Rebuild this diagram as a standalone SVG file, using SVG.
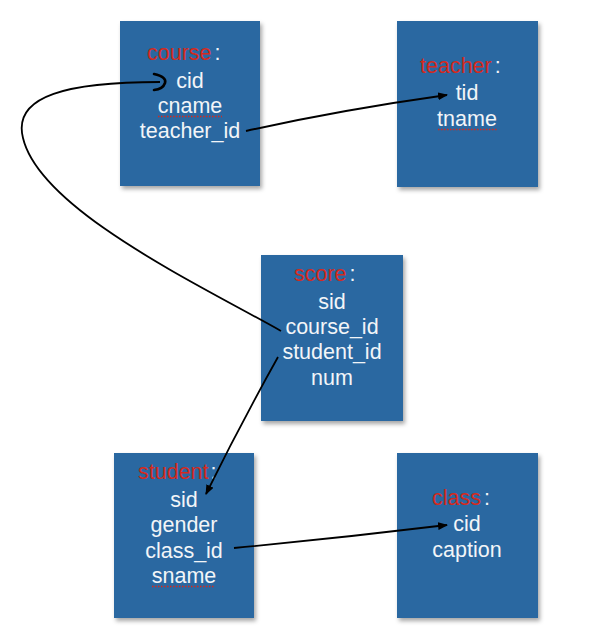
<svg xmlns="http://www.w3.org/2000/svg" width="589" height="633" viewBox="0 0 589 633">
<defs>
<filter id="sh" x="-10%" y="-10%" width="125%" height="125%">
<feDropShadow dx="2" dy="3" stdDeviation="2" flood-color="#000" flood-opacity="0.35"/>
</filter>
<marker id="ah" markerWidth="10" markerHeight="8" refX="9" refY="4" orient="auto" markerUnits="userSpaceOnUse">
<path d="M0,0 L10,4 L0,8 Z" fill="#000"/>
</marker>
<style>
.box{fill:#2c68a1;filter:url(#sh)}
.t{font-family:"Liberation Sans",Arial,sans-serif;font-size:21.5px;fill:#f2f5f8}
.c{text-anchor:middle}
.red{fill:#d42a1e}
.sq{stroke:#d42a1e;stroke-width:1.5;stroke-dasharray:1.5 1.5;fill:none}
.ln{stroke:#000;stroke-width:1.8;fill:none}
</style>
</defs>
<rect width="589" height="633" fill="#fff"/>
<g id="course">
<rect class="box" x="120" y="21" width="140" height="165"/>
<text class="t" x="147" y="60"><tspan class="red">course</tspan><tspan dx="3">:</tspan></text>
<text class="t c" x="190" y="88">cid</text>
<text class="t c" x="190" y="113">cname</text>
<line class="sq" x1="158" y1="116.5" x2="222" y2="116.5"/>
<text class="t c" x="190" y="138">teacher_id</text>
</g>
<g id="teacher">
<rect class="box" x="397" y="21" width="141" height="166"/>
<text class="t" x="420" y="73"><tspan class="red">teacher</tspan><tspan dx="3">:</tspan></text>
<text class="t c" x="467" y="100">tid</text>
<text class="t c" x="467" y="126">tname</text>
<line class="sq" x1="438" y1="129.5" x2="497" y2="129.5"/>
</g>
<g id="score">
<rect class="box" x="261" y="255" width="142" height="166"/>
<text class="t" x="294" y="281"><tspan class="red">score</tspan><tspan dx="3">:</tspan></text>
<text class="t c" x="332" y="309">sid</text>
<text class="t c" x="332" y="334">course_id</text>
<text class="t c" x="332" y="359">student_id</text>
<text class="t c" x="332" y="385">num</text>
</g>
<g id="student">
<rect class="box" x="114" y="453" width="140" height="165"/>
<text class="t" x="138" y="479"><tspan class="red">student</tspan><tspan dx="2">:</tspan></text>
<text class="t c" x="184" y="507">sid</text>
<text class="t c" x="184" y="532">gender</text>
<text class="t c" x="184" y="558">class_id</text>
<text class="t c" x="184" y="583">sname</text>
<line class="sq" x1="152" y1="586.5" x2="215" y2="586.5"/>
</g>
<g id="class">
<rect class="box" x="397" y="453" width="141" height="165"/>
<text class="t" x="432" y="505"><tspan class="red">class</tspan><tspan dx="3">:</tspan></text>
<text class="t c" x="467" y="531">cid</text>
<text class="t c" x="467" y="557">caption</text>
</g>
<g id="connectors">
<path class="ln" d="M246,131 Q340,110 447,95" marker-end="url(#ah)"/>
<path class="ln" d="M278,357 Q240,425 206,494" marker-end="url(#ah)"/>
<path class="ln" d="M234,548 Q340,538 447,525" marker-end="url(#ah)"/>
<path class="ln" d="M281,331 C200,285 40,210 23,138 C12,95 70,82 160,82"/>
<path d="M154,74 Q167,77 165,83 Q163,89 154,90" stroke="#000" stroke-width="2.6" fill="none" stroke-linecap="round"/>
</g>
</svg>
